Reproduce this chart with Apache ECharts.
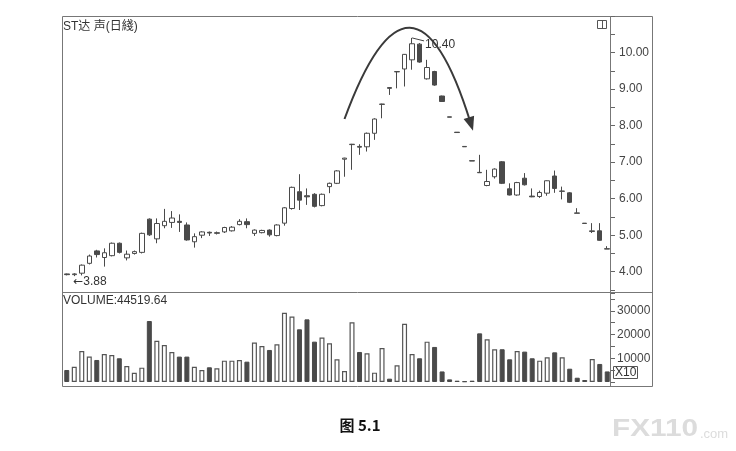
<!DOCTYPE html>
<html><head><meta charset="utf-8">
<script src="https://cdn.jsdelivr.net/npm/echarts@6/dist/echarts.min.js"></script>
<style>html,body{margin:0;padding:0;background:#fff}#c{width:736px;height:451px}</style>
</head><body><div id="c"></div>
<script>
// ---- data ----
const opens  = [3.94,3.92,3.96,4.23,4.57,4.39,4.44,4.78,4.38,4.50,4.53,5.44,4.90,5.26,5.35,5.38,5.28,4.82,5.00,5.08,5.05,5.09,5.12,5.29,5.37,5.05,5.07,5.14,4.99,5.33,5.73,6.19,6.08,6.12,5.81,6.33,6.42,7.08,7.48,7.43,7.42,7.79,8.58,9.04,9.47,9.55,9.80,10.23,9.28,9.48,8.81,8.24,7.82,7.43,7.04,6.72,6.36,6.60,7.01,6.27,6.10,6.56,6.07,6.06,6.15,6.62,6.20,6.16,5.61,5.33,5.10,5.12,4.63];
const closes = [3.92,3.94,4.18,4.43,4.47,4.52,4.78,4.53,4.48,4.55,5.05,5.01,5.32,5.38,5.47,5.35,4.87,4.96,5.09,5.06,5.07,5.21,5.22,5.38,5.29,5.14,5.13,5.01,5.28,5.75,6.31,5.96,6.05,5.79,6.12,6.42,6.76,7.11,7.49,7.41,7.79,8.18,8.59,9.02,9.48,9.95,10.24,9.74,9.59,9.11,8.66,8.23,7.81,7.42,7.03,6.71,6.47,6.81,6.42,6.10,6.44,6.38,6.05,6.17,6.49,6.28,6.21,5.90,5.60,5.32,5.12,4.86,4.62];
const lows   = [3.90,3.88,3.90,4.20,4.39,4.14,4.42,4.50,4.31,4.47,4.50,4.98,4.78,5.19,5.20,5.09,4.85,4.66,4.92,4.98,5.02,5.06,5.10,5.27,5.19,4.98,5.05,4.96,4.97,5.26,5.70,5.69,5.83,5.76,5.79,6.15,6.40,6.60,6.79,7.20,7.29,7.61,8.20,8.84,9.02,9.07,9.53,9.72,9.26,9.09,8.65,8.23,7.81,7.42,7.03,6.71,6.34,6.55,6.40,6.09,6.08,6.36,6.04,6.02,6.08,6.16,5.98,5.88,5.60,5.32,5.06,4.85,4.62];
const highs  = [3.95,3.96,4.20,4.47,4.60,4.64,4.80,4.80,4.58,4.58,5.07,5.46,5.46,5.72,5.66,5.57,5.35,5.05,5.11,5.10,5.10,5.23,5.25,5.44,5.46,5.16,5.15,5.16,5.30,5.77,6.33,6.67,6.28,6.15,6.14,6.44,6.78,7.12,7.50,7.49,7.81,8.20,8.60,9.05,9.48,9.96,10.40,10.26,9.80,9.50,8.82,8.24,7.82,7.43,7.04,7.20,6.79,6.83,7.03,6.42,6.46,6.70,6.28,6.22,6.50,6.77,6.33,6.18,5.74,5.33,5.33,5.33,4.70];
const volumes = [5060,6450,13080,10700,9280,11800,11400,10000,6750,3900,6050,25700,17400,15600,12650,10700,10700,6450,5060,6200,5770,9000,9000,9280,8570,16600,15200,13500,15900,29200,27600,22200,26400,17000,18700,16300,9560,4640,25200,12650,12100,3940,14350,1400,7030,24500,11800,10000,17000,14770,4450,1100,550,300,550,20500,18000,13800,13800,9560,13080,12800,10000,9000,10400,12500,10400,5600,1800,840,9700,7600,4452];
const cats = opens.map((_, i) => 'D' + (i + 1));
const priceTicks = [4, 5, 6, 7, 8, 9, 10];
const volTicks = [10000, 20000, 30000];
const titleText = 'ST达 声(日綫)';
const volText = 'VOLUME:44519.64';
const lowMark = { idx: 1, value: 3.88, text: '3.88' };
const highMark = { idx: 46, value: 10.40, text: '10.40' };
const arcPts = [[37, 8.18], [46, 13.22], [54, 7.94]]; // annotation arc in data coords

// ---- styles ----
const DARK = '#4a4a4a';
const FONT = '"Liberation Sans", Arial, "Noto Sans CJK SC", sans-serif';

const candleData = opens.map((o, i) => [o, closes[i], lows[i], highs[i]]);
const volData = volumes.map((v, i) => {
  const up = closes[i] >= opens[i];
  return { value: v, itemStyle: up ? { color: '#fff', borderColor: '#555', borderWidth: 1.2 } : { color: DARK, borderColor: DARK, borderWidth: 1 } };
});

const chart = echarts.init(document.getElementById('c'));
const option = {
  animation: false,
  backgroundColor: '#fff',
  grid: [
    { left: 63, width: 548, top: 16, height: 274 },
    { left: 63, width: 548, top: 293, height: 89 }
  ],
  xAxis: [
    { type: 'category', gridIndex: 0, data: cats, show: false, boundaryGap: true },
    { type: 'category', gridIndex: 1, data: cats, show: false, boundaryGap: true }
  ],
  yAxis: [
    { type: 'value', gridIndex: 0, position: 'right', min: 3.5, max: 11, interval: 0.5, scale: true,
      axisLine: { show: false }, splitLine: { show: false },
      axisTick: { show: true, length: 4, lineStyle: { color: '#666' } },
      axisLabel: { margin: 8, color: '#444', fontSize: 12, fontFamily: FONT,
        formatter: v => priceTicks.indexOf(v) >= 0 ? v.toFixed(2) : '' } },
    { type: 'value', gridIndex: 1, position: 'right', min: 0, max: 37500, interval: 5000,
      axisLine: { show: false }, splitLine: { show: false },
      axisTick: { show: true, length: 4, lineStyle: { color: '#666' } },
      axisLabel: { margin: 6, color: '#444', fontSize: 12, fontFamily: FONT,
        formatter: v => volTicks.indexOf(v) >= 0 ? String(v) : '' } }
  ],
  series: [
    { type: 'candlestick', xAxisIndex: 0, yAxisIndex: 0, data: candleData, barWidth: 5,
      itemStyle: { color: '#fff', color0: DARK, borderColor: DARK, borderColor0: DARK, borderWidth: 1 } },
    { type: 'bar', xAxisIndex: 1, yAxisIndex: 1, data: volData, barWidth: 5 }
  ]
};
chart.setOption(option);

const P = (i, v) => chart.convertToPixel({ gridIndex: 0 }, [cats[i], v]);
const lp = P(lowMark.idx, lowMark.value);
const hp = P(highMark.idx, highMark.value);
const a0 = P(arcPts[0][0], arcPts[0][1]);
const a1 = P(arcPts[1][0], arcPts[1][1]);
const a2 = P(arcPts[2][0], arcPts[2][1]);
// arrow head
let dx = a2[0] - a1[0], dy = a2[1] - a1[1];
const len = Math.hypot(dx, dy); dx /= len; dy /= len;
const tip = [a2[0] + dx * 3, a2[1] + dy * 3];
const base = [tip[0] - dx * 14, tip[1] - dy * 14];
const px = -dy * 5.5, py = dx * 5.5;

const frame = '#777';
chart.setOption({
  graphic: [
    { type: 'rect', shape: { x: 62.5, y: 16.5, width: 590, height: 370 }, style: { fill: null, stroke: frame, lineWidth: 1 }, silent: true },
    { type: 'line', shape: { x1: 62.5, y1: 292.5, x2: 652.5, y2: 292.5 }, style: { stroke: frame, lineWidth: 1 } },
    { type: 'line', shape: { x1: 610.5, y1: 16.5, x2: 610.5, y2: 386.5 }, style: { stroke: frame, lineWidth: 1 } },
    { type: 'rect', shape: { x: 597.5, y: 20.5, width: 9, height: 8 }, style: { fill: '#fff', stroke: '#555', lineWidth: 1 } },
    { type: 'line', shape: { x1: 602.5, y1: 20.5, x2: 602.5, y2: 28.5 }, style: { stroke: '#555', lineWidth: 1 } },
    { type: 'text', x: 63, y: 27, style: { text: titleText, font: '12px ' + FONT, fill: '#333', textVerticalAlign: 'middle' } },
    { type: 'text', x: 63, y: 301, style: { text: volText, font: '12px ' + FONT, fill: '#333', textVerticalAlign: 'middle' } },
    { type: 'rect', shape: { x: 613.5, y: 366.5, width: 24, height: 12 }, style: { fill: '#fff', stroke: '#555', lineWidth: 1 } },
    { type: 'text', x: 615, y: 373, style: { text: 'X10', font: '12px ' + FONT, fill: '#333', textVerticalAlign: 'middle' } },
    { type: 'text', x: lp[0] - 1, y: lp[1] + 5.5, style: { text: '{a|←}' + lowMark.text, font: '12px ' + FONT, fill: '#333', textVerticalAlign: 'middle',
        rich: { a: { fontFamily: '"DejaVu Sans"', fontSize: 12, fill: '#333' } } } },
    { type: 'line', shape: { x1: hp[0], y1: hp[1], x2: hp[0] + 12, y2: hp[1] + 3 }, style: { stroke: '#444', lineWidth: 1 } },
    { type: 'text', x: hp[0] + 13, y: hp[1] + 6.5, style: { text: highMark.text, font: '12px ' + FONT, fill: '#333', textVerticalAlign: 'middle' } },
    { type: 'bezierCurve', shape: { x1: a0[0], y1: a0[1], cpx1: a1[0], cpy1: a1[1], x2: a2[0] - dx * 6, y2: a2[1] - dy * 6 }, style: { fill: null, stroke: '#3a3a3a', lineWidth: 2 } },
    { type: 'polygon', shape: { points: [tip, [base[0] + px, base[1] + py], [base[0] - px, base[1] - py]] }, style: { fill: '#3a3a3a' } },
    { type: 'text', x: 360, y: 425, style: { text: '图 5.1', font: 'bold 15px "Noto Sans CJK SC", "Liberation Sans", sans-serif', fill: '#111', textAlign: 'center', textVerticalAlign: 'middle' } },
    { type: 'text', x: 612, y: 429, scaleX: 1.24, originX: 0, originY: 0, style: { text: 'FX110', font: 'bold 24px "Liberation Sans", Arial, sans-serif', fill: '#dcdcdc', textVerticalAlign: 'middle' } },
    { type: 'text', x: 700, y: 434, style: { text: '.com', font: '13px "Liberation Sans", Arial, sans-serif', fill: '#dcdcdc', textVerticalAlign: 'middle' } }
  ]
});
</script></body></html>
